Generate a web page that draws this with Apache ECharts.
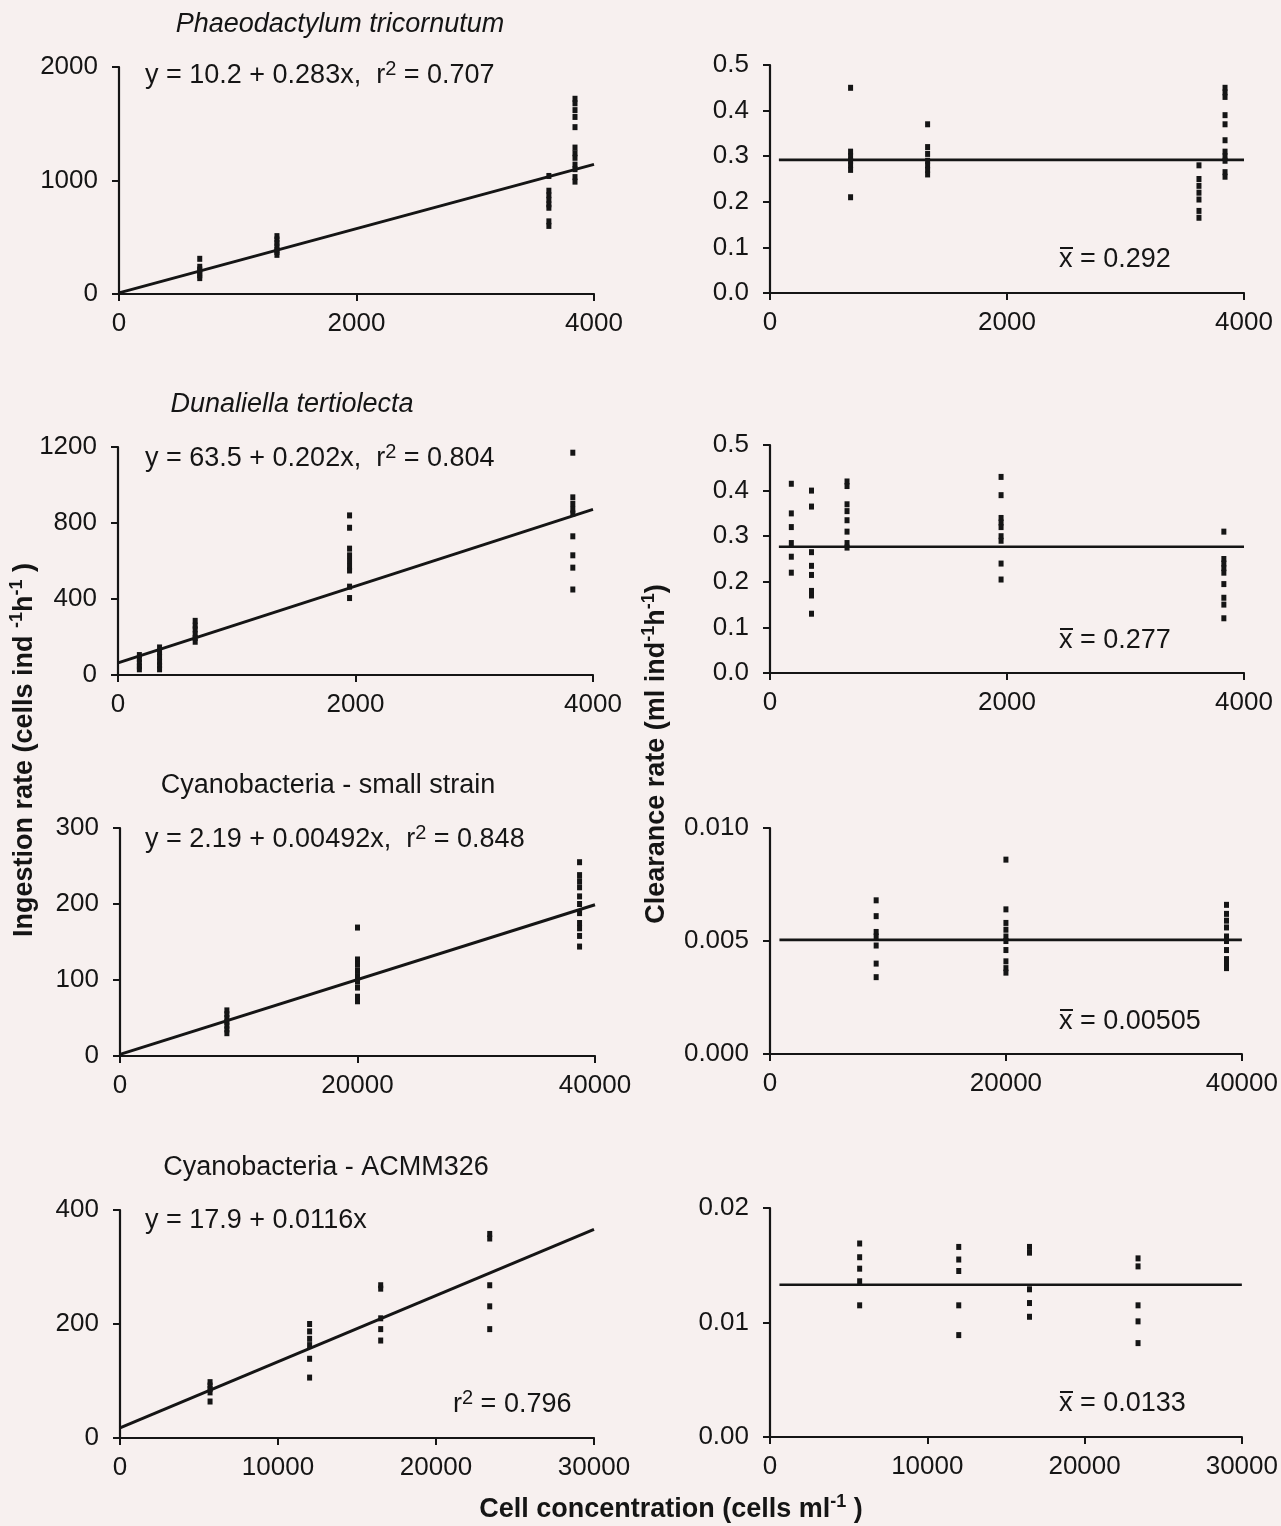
<!DOCTYPE html>
<html><head><meta charset="utf-8">
<script src="https://cdn.jsdelivr.net/npm/echarts@6/dist/echarts.min.js"></script>
<style>html,body{margin:0;padding:0;background:#f7f0ef}#c{width:1281px;height:1526px}</style>
</head><body><div id="c"></div>
<script>
// ---------- DATA ----------
const panelTitles = ['Phaeodactylum tricornutum', 'Dunaliella tertiolecta', 'Cyanobacteria - small strain', 'Cyanobacteria - ACMM326'];

// Row 1: Phaeodactylum tricornutum
const p1X = [680, 1330, 3620, 3840];
const p1Ingest = [[310,240,215,190,165,140],[510,480,450,420,390,370,345],[1040,910,870,830,790,760,640,600],[1720,1680,1620,1560,1470,1290,1240,1200,1140,1100,1030,990]];
const p1Clear = [[0.45,0.31,0.30,0.29,0.28,0.27,0.21],[0.37,0.32,0.305,0.29,0.28,0.27,0.26],[0.28,0.25,0.235,0.22,0.205,0.18,0.165],[0.45,0.44,0.43,0.39,0.37,0.335,0.31,0.30,0.29,0.265,0.255]];
const p1Fit = [[0, 10.2], [4000, 1142]];
const p1Mean = 0.292;

// Row 2: Dunaliella tertiolecta
const p2X = [180, 350, 650, 1950, 3830];
const p2Ingest = [[105,85,65,45,30],[145,120,95,70,50,30],[285,260,240,215,195,175],[840,775,665,630,600,570,550,465,405],[1170,935,900,870,850,730,630,565,450]];
const p2Clear = [[0.415,0.35,0.32,0.285,0.255,0.22],[0.40,0.365,0.265,0.235,0.215,0.18,0.17,0.13],[0.42,0.41,0.37,0.355,0.335,0.31,0.285,0.275],[0.43,0.39,0.34,0.33,0.32,0.30,0.29,0.24,0.205],[0.31,0.25,0.24,0.23,0.22,0.195,0.165,0.15,0.12]];
const p2Fit = [[0, 63.5], [4000, 871.5]];
const p2Mean = 0.277;

// Row 3: Cyanobacteria - small strain
const p3X = [9000, 20000, 38700];
const p3Ingest = [[60,55,50,45,40,35,30],[169,127,120,112,105,98,90,78,72],[255,238,230,222,210,200,188,175,168,158,144]];
const p3Clear = [[0.0068,0.0061,0.0054,0.0052,0.0048,0.0040,0.0034],[0.0086,0.0064,0.0058,0.0055,0.0052,0.0050,0.0046,0.0041,0.0038,0.0036],[0.0066,0.0062,0.0059,0.0056,0.0052,0.0050,0.0046,0.0042,0.0040,0.0038]];
const p3Fit = [[0, 2.19], [40000, 199]];
const p3Mean = 0.00505;

// Row 4: Cyanobacteria - ACMM326
const p4X = [5700, 12000, 16500, 23400];
const p4Ingest = [[98,92,86,80,64],[200,187,174,163,139,106],[268,262,210,191,171],[358,350,268,231,191]];
const p4Clear = [[0.0169,0.0157,0.0147,0.0136,0.0115],[0.0166,0.0155,0.0145,0.0115,0.0089],[0.0166,0.0161,0.0129,0.0117,0.0105],[0.0156,0.0149,0.0115,0.0101,0.0082]];
const p4Fit = [[0, 17.9], [30000, 365.9]];
const p4Mean = 0.0133;

// mean-line start (x) for the clearance panels
const meanStart = [75, 75, 800, 600];

// tick labels
const xTicksRow = [[0,2000,4000],[0,2000,4000],[0,20000,40000],[0,10000,20000,30000]];
const yTicksIngest = [[0,1000,2000],[0,400,800,1200],[0,100,200,300],[0,200,400]];
const yTicksClear = [[0,0.1,0.2,0.3,0.4,0.5],[0,0.1,0.2,0.3,0.4,0.5],[0,0.005,0.010],[0,0.01,0.02]];
const yDecIngest = [0,0,0,0];
const yDecClear = [1,1,3,2];

const equations = ['y = 10.2 + 0.283x,  r{s|2} = 0.707', 'y = 63.5 + 0.202x,  r{s|2} = 0.804', 'y = 2.19 + 0.00492x,  r{s|2} = 0.848', 'y = 17.9 + 0.0116x'];
const meanLabels = ['0.292', '0.277', '0.00505', '0.0133'];

// ---------- BUILD ----------
const FONT = '"Liberation Sans", Arial, Helvetica, sans-serif';
const INK = '#151515';
const FS = 26;   // tick labels
const FT = 27;   // other text

const xs = [p1X, p2X, p3X, p4X];
const ingest = [p1Ingest, p2Ingest, p3Ingest, p4Ingest];
const clear = [p1Clear, p2Clear, p3Clear, p4Clear];
const fits = [p1Fit, p2Fit, p3Fit, p4Fit];
const means = [p1Mean, p2Mean, p3Mean, p4Mean];

function pairs(xv, groups) {
  const out = [];
  groups.forEach((g, i) => g.forEach(v => out.push([xv[i], v])));
  return out;
}

const gridPos = [
  {left:119, top:67, width:475, height:227},
  {left:770, top:65, width:474, height:228},
  {left:118, top:447, width:475, height:228},
  {left:770, top:445, width:474, height:228},
  {left:120, top:828, width:475, height:228},
  {left:770, top:828, width:474, height:226},
  {left:120, top:1210, width:474, height:228},
  {left:770, top:1208, width:474, height:229}
];

const axisLineStyle = {color: INK, width: 2.2};
function mkAxis(ticks, dec, gi, isX) {
  return {
    type: 'value', gridIndex: gi,
    min: ticks[0], max: ticks[ticks.length - 1], interval: ticks[1] - ticks[0],
    axisLine: {show: true, onZero: false, lineStyle: axisLineStyle},
    axisTick: {show: true, inside: false, length: 7, lineStyle: {color: INK, width: 2}},
    axisLabel: {show: true, color: INK, fontSize: FS, fontFamily: FONT, margin: isX ? 17 : 21,
      showMinLabel: true, showMaxLabel: true,
      formatter: v => Number(v).toFixed(dec)},
    splitLine: {show: false}
  };
}

const grid = [], xAxis = [], yAxis = [], series = [];
for (let r = 0; r < 4; r++) {
  for (let c = 0; c < 2; c++) {
    const gi = r * 2 + c;
    grid.push(Object.assign({containLabel: false}, gridPos[gi]));
    xAxis.push(mkAxis(xTicksRow[r], 0, gi, true));
    yAxis.push(mkAxis(c === 0 ? yTicksIngest[r] : yTicksClear[r], c === 0 ? yDecIngest[r] : yDecClear[r], gi, false));
    const lineData = c === 0 ? fits[r] : [[meanStart[r], means[r]], [xTicksRow[r][xTicksRow[r].length - 1], means[r]]];
    series.push({
      type: 'line', xAxisIndex: gi, yAxisIndex: gi, data: lineData,
      symbol: 'none', silent: true, animation: false,
      lineStyle: {color: INK, width: c === 0 ? 3 : 2.6}, z: 2
    });
    series.push({
      type: 'scatter', xAxisIndex: gi, yAxisIndex: gi,
      data: pairs(xs[r], c === 0 ? ingest[r] : clear[r]),
      symbol: 'rect', symbolSize: [5, 6], animation: false,
      itemStyle: {color: INK, opacity: 1}, z: 3
    });
  }
}

// ---------- TEXT ----------
const graphic = [];
function txt(x, y, text, opts) {
  const o = Object.assign({fontSize: FT, fontFamily: FONT, fill: INK, align: 'left', verticalAlign: 'middle'}, opts || {});
  const el = {type: 'text', x: x, y: y, z: 10, silent: true, style: Object.assign({text: text}, o)};
  if (opts && opts.rotation !== undefined) { el.rotation = opts.rotation; delete el.style.rotation; }
  graphic.push(el);
}
const richEq = {
  n: {fontSize: FT, fontFamily: FONT, fill: INK, lineHeight: 34},
  s: {fontSize: 20, fontFamily: FONT, fill: INK, verticalAlign: 'top', lineHeight: 20}
};
function wrapN(t) { return t.split(/(\{s\|[^}]*\})/).map(p => p.startsWith('{s|') ? p : (p ? '{n|' + p + '}' : '')).join(''); }

const titlePos = [[340, 24], [292, 404], [328, 786], [326, 1168]];
panelTitles.forEach((t, i) => txt(titlePos[i][0], titlePos[i][1], t, {align: 'center', fontStyle: i < 2 ? 'italic' : 'normal'}));

const eqY = [76, 459, 840, 1221];
equations.forEach((e, i) => txt(145, eqY[i], wrapN(e), {rich: richEq}));
txt(453, 1405, wrapN('r{s|2} = 0.796'), {rich: richEq});

const meanY = [260, 641, 1022, 1404];
meanLabels.forEach((m, i) => {
  txt(1059, meanY[i], 'x = ' + m);
  graphic.push({type: 'line', z: 10, silent: true, shape: {x1: 1060, y1: meanY[i] - 12, x2: 1073, y2: meanY[i] - 12}, style: {stroke: INK, lineWidth: 2}});
});

const richAx = {
  b: {fontSize: FT, fontFamily: FONT, fontWeight: 'bold', fill: INK, lineHeight: 34},
  s: {fontSize: 18, fontFamily: FONT, fontWeight: 'bold', fill: INK, verticalAlign: 'top', lineHeight: 18}
};
txt(25, 750, '{b|Ingestion rate (cells ind }{s|-1}{b|h}{s|-1}{b| )}', {rich: richAx, align: 'center', rotation: Math.PI / 2});
txt(657, 754, '{b|Clearance rate (ml ind}{s|-1}{b|h}{s|-1}{b|)}', {rich: richAx, align: 'center', rotation: Math.PI / 2});
txt(671, 1510, '{b|Cell concentration (cells ml}{s|-1}{b| )}', {rich: richAx, align: 'center'});

const chart = echarts.init(document.getElementById('c'), null, {renderer: 'canvas'});
chart.setOption({
  backgroundColor: '#f7f0ef',
  animation: false,
  grid: grid, xAxis: xAxis, yAxis: yAxis, series: series, graphic: graphic
});
</script></body></html>
